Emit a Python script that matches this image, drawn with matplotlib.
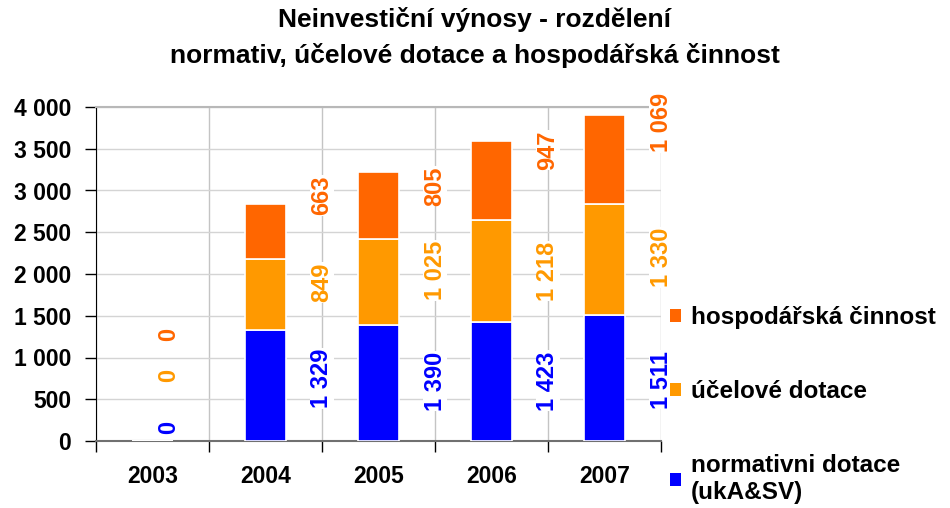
import matplotlib
matplotlib.use("Agg")
import matplotlib.pyplot as plt
from matplotlib.patches import Patch
from matplotlib.ticker import FuncFormatter, MultipleLocator
import numpy as np

plt.rcParams['font.family'] = ['Liberation Sans', 'DejaVu Sans']
plt.rcParams['font.weight'] = 'bold'

years = ["2003", "2004", "2005", "2006", "2007"]
normativ = [0, 1329, 1390, 1423, 1511]
ucelove = [0, 849, 1025, 1218, 1330]
hospodarska = [0, 663, 805, 947, 1069]

series_names = ["normativni dotace\n(ukA&SV)", "účelové dotace", "hospodářská činnost"]
colors = ["#0000FF", "#FF9900", "#FF6600"]

# where the (hand-placed) data labels sit
label_x = [0.14, 0.5, 0.5, 0.5, 0.5]
label_y = [
    [160, 750, 720, 720, 735],
    [780, 1900, 2045, 2035, 2200],
    [1280, 2945, 3055, 3485, 3810],
]

def fmt(v, pos=None):
    return f"{int(v):,}".replace(",", " ")

fig = plt.figure(figsize=(9.5, 5.08), dpi=100)
ax = fig.add_axes([96 / 950, 1 - 441 / 508, 565 / 950, 334 / 508])

x = np.arange(len(years))
width = 0.37
bottom = np.zeros(len(years))
handles = []
for vals, col, name in zip([normativ, ucelove, hospodarska], colors, series_names):
    ax.bar(x, vals, width, bottom=bottom, color=col, edgecolor="white", linewidth=1.2, zorder=3)
    bottom += np.array(vals)
    handles.append(Patch(facecolor=col, label=name))

for vals, col, ys in zip([normativ, ucelove, hospodarska], colors, label_y):
    for i, v in enumerate(vals):
        ax.text(x[i] + label_x[i], ys[i], fmt(v), rotation=90, color=col,
                fontsize=17, fontweight="bold", ha="center", va="center", zorder=5,
                bbox=dict(facecolor="white", edgecolor="none", pad=0.5))

ax.set_xlim(-0.5, 4.5)
ax.set_ylim(0, 4000)
ax.yaxis.set_major_locator(MultipleLocator(500))
ax.yaxis.set_major_formatter(FuncFormatter(fmt))
ax.set_xticks(x, years)
ax.set_xticks(np.arange(-0.5, 5, 1), minor=True)
ax.tick_params(axis="x", which="major", length=0, pad=17, labelsize=16.5)
ax.tick_params(axis="x", which="minor", length=8, width=1, color="black", direction="out")
ax.tick_params(axis="y", length=8, width=1, color="black", labelsize=16.5, pad=10)
for lab in ax.get_xticklabels() + ax.get_yticklabels():
    lab.set_fontweight("bold")

ax.grid(axis="y", color="#d4d4d4", linewidth=1, zorder=0)
ax.grid(axis="x", which="minor", color="#c4c4c4", linewidth=1, zorder=0)
ax.spines["left"].set_color("black")
ax.spines["bottom"].set_color("#707070")
ax.spines["bottom"].set_linewidth(1.5)
ax.spines["top"].set_color("#b8b8b8")
ax.spines["top"].set_linewidth(1.5)
ax.spines["right"].set_visible(False)

fig.text(0.5, 1 - 20 / 508, "Neinvestiční výnosy - rozdělení", ha="center", va="center",
         fontsize=19, fontweight="bold")
fig.text(0.5, 1 - 55 / 508, "normativ, účelové dotace a hospodářská činnost", ha="center",
         va="center", fontsize=19, fontweight="bold")

fig.legend(handles[::-1], series_names[::-1], loc="upper left",
           bbox_to_anchor=(670 / 950, 1 - 306 / 508), frameon=False, borderpad=0,
           borderaxespad=0, prop=dict(size=17.5, weight="bold"), handlelength=0.45,
           handleheight=0.45, handletextpad=0.4, labelspacing=2.1)

fig.savefig("out.png", dpi=100)
